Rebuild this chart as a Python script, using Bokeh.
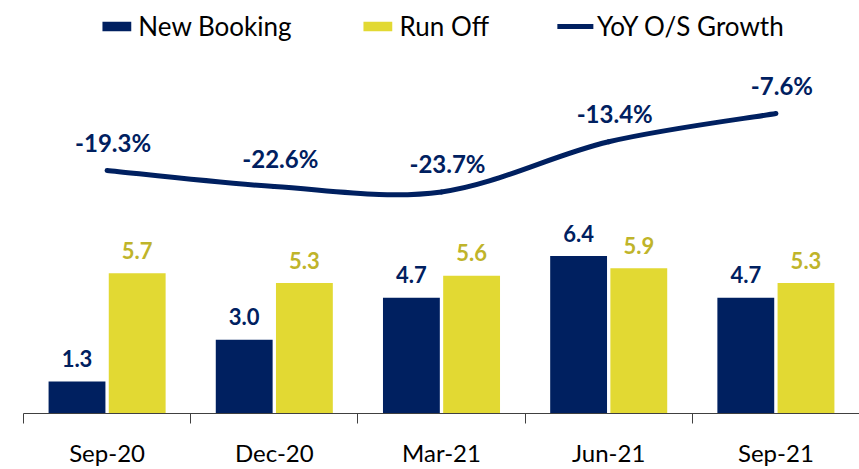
from bokeh.plotting import figure
from bokeh.models import Range1d, FixedTicker, Legend, LegendItem, ColumnDataSource
from bokeh.core.properties import value
from bokeh.embed import file_html
from bokeh.resources import INLINE

categories = ["Sep-20", "Dec-20", "Mar-21", "Jun-21", "Sep-21"]
new_booking = [1.3, 3.0, 4.7, 6.4, 4.7]
run_off = [5.7, 5.3, 5.6, 5.9, 5.3]
yoy_growth = [-19.3, -22.6, -23.7, -13.4, -7.6]

NAVY = "#002060"
YELLOW = "#E2D933"
YELLOW_TXT = "#BFB42A"
FONT = "Lato"

n = len(categories)
centers = [i + 0.5 for i in range(n)]
off = 0.18
bw = 0.34

p = figure(width=859, height=469, output_backend="svg", toolbar_location=None,
           x_range=Range1d(0, n), y_range=Range1d(0, 16.38),
           min_border_left=23, min_border_right=0, min_border_top=10, min_border_bottom=56)
p.extra_y_ranges = {"g": Range1d(-69.2, 13.55)}
p.outline_line_color = None
p.xgrid.visible = False
p.ygrid.visible = False
p.yaxis.visible = False
p.background_fill_color = "white"
p.border_fill_color = "white"

nb_src = ColumnDataSource(dict(x=[c - off for c in centers], top=new_booking,
                               lbl=[f"{v:.1f}" for v in new_booking]))
ro_src = ColumnDataSource(dict(x=[c + off for c in centers], top=run_off,
                               lbl=[f"{v:.1f}" for v in run_off]))

r_nb = p.vbar(x="x", top="top", width=bw, bottom=0, source=nb_src,
              fill_color=NAVY, line_color=None)
r_ro = p.vbar(x="x", top="top", width=bw, bottom=0, source=ro_src,
              fill_color=YELLOW, line_color=None)

p.text(x="x", y="top", text="lbl", source=nb_src, text_align="center",
       text_baseline="middle", y_offset=-23, text_font=value(FONT),
       text_font_style="bold", text_font_size="22px", text_color=NAVY)
p.text(x="x", y="top", text="lbl", source=ro_src, text_align="center",
       text_baseline="middle", y_offset=-23, text_font=value(FONT),
       text_font_style="bold", text_font_size="22px", text_color=YELLOW_TXT)

# smoothed line via bezier segments derived from the data (Catmull-Rom)
xs = centers
ys = yoy_growth
px = [xs[0]] + xs + [xs[-1]]
py = [ys[0]] + ys + [ys[-1]]
bz = dict(x0=[], y0=[], x1=[], y1=[], cx0=[], cy0=[], cx1=[], cy1=[])
for i in range(n - 1):
    j = i + 1
    bz["x0"].append(px[j]); bz["y0"].append(py[j])
    bz["x1"].append(px[j + 1]); bz["y1"].append(py[j + 1])
    bz["cx0"].append(px[j] + (px[j + 1] - px[j - 1]) / 6)
    bz["cy0"].append(py[j] + (py[j + 1] - py[j - 1]) / 6)
    bz["cx1"].append(px[j + 1] - (px[j + 2] - px[j]) / 6)
    bz["cy1"].append(py[j + 1] - (py[j + 2] - py[j]) / 6)
r_line = p.bezier(source=ColumnDataSource(bz), x0="x0", y0="y0", x1="x1", y1="y1",
                  cx0="cx0", cy0="cy0", cx1="cx1", cy1="cy1",
                  line_color=NAVY, line_width=5, line_cap="round", y_range_name="g")

g_src = ColumnDataSource(dict(x=xs, y=ys, lbl=[f"{v:.1f}%" for v in ys]))
p.text(x="x", y="y", text="lbl", source=g_src, y_range_name="g",
       text_align="center", text_baseline="middle", x_offset=6, y_offset=-28,
       text_font=value(FONT), text_font_style="bold", text_font_size="24px",
       text_color=NAVY)

ax = p.xaxis[0]
ax.ticker = FixedTicker(ticks=centers, minor_ticks=list(range(n + 1)))
ax.major_label_overrides = {c: lab for c, lab in zip(centers, categories)}
ax.major_tick_line_color = None
ax.minor_tick_line_color = "#404040"
ax.minor_tick_in = 0
ax.minor_tick_out = 10
ax.axis_line_color = "#404040"
ax.axis_line_width = 1
ax.major_label_text_font = FONT
ax.major_label_text_font_size = "24px"
ax.major_label_text_font_style = "normal"
ax.major_label_text_color = "#000000"
ax.major_label_standoff = 14

legend = Legend(items=[LegendItem(label="New Booking", renderers=[r_nb]),
                       LegendItem(label="Run Off", renderers=[r_ro]),
                       LegendItem(label="YoY O/S Growth", renderers=[r_line])],
                orientation="horizontal", location="top_center",
                glyph_width=36, glyph_height=12, label_standoff=4, spacing=68,
                label_text_font=FONT, label_text_font_size="26px",
                label_text_color="#000000", border_line_color=None,
                background_fill_alpha=0, padding=6, margin=0)
p.add_layout(legend)

open("out.html", "w").write(file_html(p, INLINE))
